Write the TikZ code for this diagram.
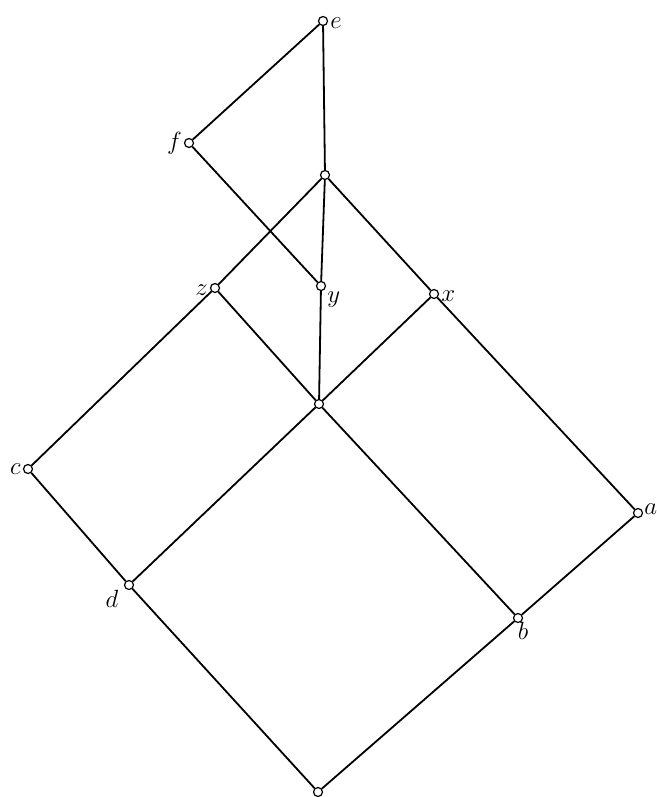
\documentclass[tikz,border=0pt]{standalone}
\begin{document}
\begin{tikzpicture}[x=1pt,y=-1pt,
  pt/.style={circle,draw,fill=white,inner sep=0pt,minimum size=9pt,line width=1.2pt},
  lab/.style={font=\fontsize{23}{25}\selectfont,inner sep=2pt},
  edge/.style={line width=1.8pt}]
\useasboundingbox (0,0) rectangle (656,797);
\node[pt] (e) at (323,21) {};
\node[pt] (f) at (189,143) {};
\node[pt] (t) at (325,175) {};
\node[pt] (y) at (321,286) {};
\node[pt] (z) at (215,288) {};
\node[pt] (x) at (434,294) {};
\node[pt] (m) at (319,404) {};
\node[pt] (c) at (28,469) {};
\node[pt] (a) at (638,513) {};
\node[pt] (d) at (129,585) {};
\node[pt] (b) at (518,618) {};
\node[pt] (o) at (318,792) {};
\node[lab,anchor=west] (le) at ([yshift=-2pt]e.east) {$e$};
\node[lab,anchor=east] (lf) at (f.west) {$f$};
\node[lab,anchor=east] (lz) at ([yshift=-2pt]z.west) {$z$};
\node[lab,anchor=north west,inner sep=0pt] (ly) at ([xshift=1pt,yshift=-6pt]y.east) {$y$};
\node[lab,anchor=west] (lx) at ([yshift=-2pt]x.east) {$x$};
\node[lab,anchor=east] (lc) at (c.west) {$c$};
\node[lab,anchor=west,inner sep=0pt] (la) at ([xshift=1pt,yshift=4pt]a.east) {$a$};
\node[lab,anchor=north east,inner sep=1pt] (ld) at ([xshift=-6pt]d.south west) {$d$};
\node[lab,anchor=north,inner sep=1pt] (lb) at ([xshift=5pt,yshift=2pt]b.south) {$b$};
\draw[edge] (e) -- (f);
\draw[edge] (e) -- (t);
\draw[edge] (f) -- (y);
\draw[edge] (t) -- (y);
\draw[edge] (t) -- (z);
\draw[edge] (t) -- (x);
\draw[edge] (y) -- (m);
\draw[edge] (z) -- (m);
\draw[edge] (x) -- (m);
\draw[edge] (z) -- (c);
\draw[edge] (x) -- (a);
\draw[edge] (c) -- (d);
\draw[edge] (m) -- (d);
\draw[edge] (m) -- (b);
\draw[edge] (a) -- (b);
\draw[edge] (d) -- (o);
\draw[edge] (b) -- (o);
\end{tikzpicture}
\end{document}
